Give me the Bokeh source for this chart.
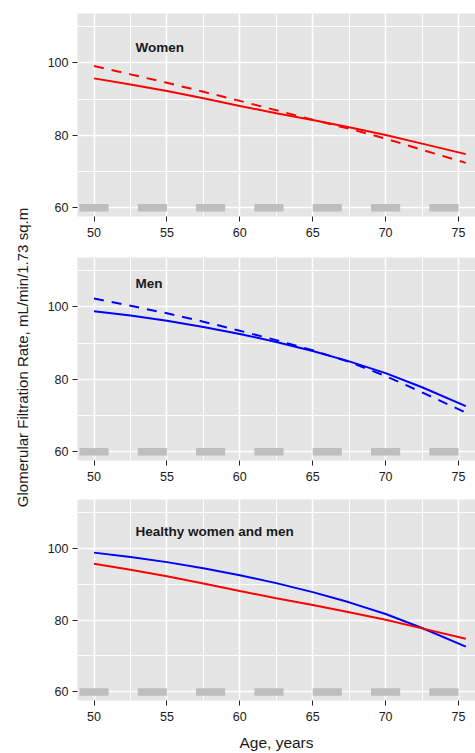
from bokeh.plotting import figure
from bokeh.layouts import row, column
from bokeh.models import Range1d, FixedTicker, Label
from bokeh.core.properties import value
from bokeh.embed import file_html
from bokeh.resources import INLINE

# ---------------- data ----------------
age = [50, 52.5, 55, 57.5, 60, 62.5, 65, 67.5, 70, 72.5, 75.5]
women_solid = [95.7, 94.0, 92.2, 90.2, 88.1, 86.1, 84.2, 82.2, 80.1, 77.7, 74.8]
women_dashed = [99.1, 96.8, 94.5, 92.0, 89.5, 86.9, 84.3, 81.8, 79.1, 76.0, 72.4]
men_solid = [98.8, 97.6, 96.15, 94.45, 92.5, 90.3, 87.8, 84.95, 81.7, 77.8, 72.6]
men_dashed = [102.3, 100.3, 98.2, 95.9, 93.4, 90.8, 88.0, 84.8, 80.9, 76.4, 70.8]

rug_start = [49, 53, 57, 61, 65, 69, 73]
rug_end = [51, 55, 59, 63, 67, 71, 75]
rug_level = 60

x_ticks = [50, 55, 60, 65, 70, 75]
x_minor = [52.5, 57.5, 62.5, 67.5, 72.5]
y_ticks = [60, 80, 100]
y_minor = [70, 90, 110]

panel_titles = ["Women", "Men", "Healthy women and men"]
y_label = "Glomerular Filtration Rate, mL/min/1.73 sq.m"
x_label = "Age, years"

FONT = "Liberation Sans"
RED = "#FF0000"
BLUE = "#0000FF"
PANEL_W = 437


def make_panel(height, top, bottom, title, title_y, show_xlabel=False):
    p = figure(width=PANEL_W, height=height, output_backend="svg", toolbar_location=None,
               x_range=Range1d(48.868, 48.868 + (PANEL_W - 39) / 14.58),
               y_range=Range1d(57.6, 113.6),
               min_border_left=39, min_border_right=0, min_border_top=top,
               min_border_bottom=bottom)
    p.background_fill_color = "#E5E5E5"
    p.border_fill_color = "white"
    p.outline_line_color = None
    p.xaxis.ticker = FixedTicker(ticks=x_ticks, minor_ticks=x_minor)
    p.yaxis.ticker = FixedTicker(ticks=y_ticks, minor_ticks=y_minor)
    for ax in (p.xaxis, p.yaxis):
        ax.axis_line_color = None
        ax.major_tick_line_color = "#222222"
        ax.major_tick_in = 0
        ax.major_tick_out = 5
        ax.minor_tick_line_color = None
        ax.major_label_text_font = FONT
        ax.major_label_text_font_size = "12.5px"
        ax.major_label_text_color = "#1a1a1a"
    p.xaxis.major_label_standoff = 6
    p.yaxis.major_label_standoff = 4
    for g in (p.xgrid, p.ygrid):
        g.grid_line_color = "white"
        g.grid_line_width = 1.6
        g.minor_grid_line_color = "white"
        g.minor_grid_line_width = 1.0
    if show_xlabel:
        p.xaxis.axis_label = x_label
        p.xaxis.axis_label_text_font = FONT
        p.xaxis.axis_label_text_font_size = "15.5px"
        p.xaxis.axis_label_text_font_style = "normal"
        p.xaxis.axis_label_text_color = "#1a1a1a"
        p.xaxis.axis_label_standoff = 10
    # rug-like gray bars
    p.segment(x0=rug_start, y0=[rug_level] * len(rug_start), x1=rug_end,
              y1=[rug_level] * len(rug_start), line_color="#BEBEBE",
              line_width=7.5, line_cap="butt")
    p.text(x=[52.85], y=[title_y], text=[title], text_font=value(FONT),
           text_font_size="13.5px", text_font_style="bold", text_color="#1a1a1a",
           text_baseline="middle", text_align="left")
    return p


p1 = make_panel(249, 13, 33, panel_titles[0], 104.3)
p1.line(age, women_dashed, line_color=RED, line_width=2, line_dash="10 8")
p1.line(age, women_solid, line_color=RED, line_width=2)

p2 = make_panel(241, 8, 30, panel_titles[1], 106.3)
p2.line(age, men_dashed, line_color=BLUE, line_width=2, line_dash="10 8")
p2.line(age, men_solid, line_color=BLUE, line_width=2)

p3 = make_panel(263, 9, 51, panel_titles[2], 104.7, show_xlabel=True)
p3.line(age, men_solid, line_color=BLUE, line_width=2)
p3.line(age, women_solid, line_color=RED, line_width=2)

# left label column
TOTAL_H = 249 + 241 + 263
lab = figure(width=38, height=TOTAL_H, output_backend="svg", toolbar_location=None,
             x_range=Range1d(0, 38), y_range=Range1d(0, TOTAL_H),
             x_axis_type=None, y_axis_type=None,
             min_border=0, min_border_left=0, min_border_right=0,
             min_border_top=0, min_border_bottom=0)
lab.outline_line_color = None
lab.xgrid.visible = False
lab.ygrid.visible = False
lab.border_fill_color = "white"
lab.background_fill_color = "white"
lab.add_layout(Label(x=22, y=TOTAL_H - 357, text=y_label, angle=1.5707963,
                     text_align="center", text_baseline="middle",
                     text_font=FONT, text_font_size="15px", text_color="#1a1a1a"))

layout = row(lab, column(p1, p2, p3, spacing=0), spacing=0)

open("out.html", "w").write(file_html(layout, INLINE))
